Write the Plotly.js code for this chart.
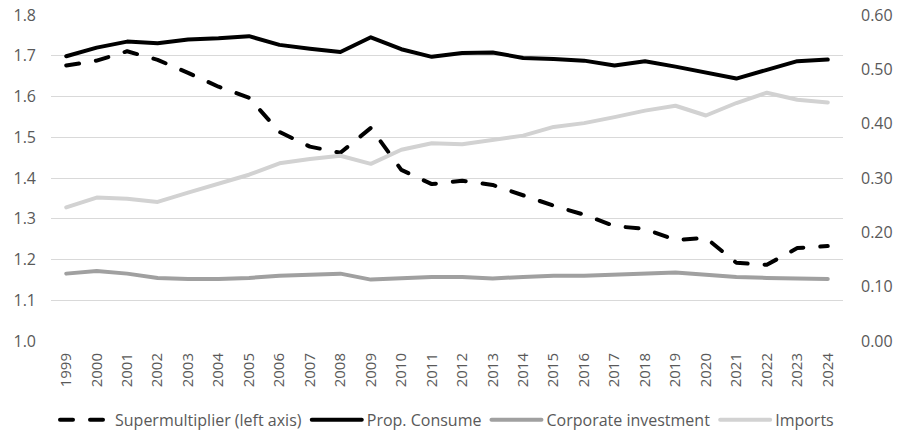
<!DOCTYPE html>
<html>
<head>
<meta charset="utf-8">
<script src="https://cdn.plot.ly/plotly-3.0.1.min.js"></script>
<style>
html,body{margin:0;padding:0;background:#fff;}
#chart{width:902px;height:433px;}
path.js-line{stroke-linecap:round !important;stroke-linejoin:round !important;}
</style>
</head>
<body>
<div id="chart"></div>
<script>
const years = ["1999","2000","2001","2002","2003","2004","2005","2006","2007","2008","2009","2010","2011","2012","2013","2014","2015","2016","2017","2018","2019","2020","2021","2022","2023","2024"];
const supermultiplier = [1.676,1.688,1.711,1.690,1.658,1.624,1.597,1.513,1.477,1.462,1.523,1.420,1.385,1.393,1.383,1.358,1.332,1.310,1.282,1.275,1.248,1.253,1.192,1.187,1.228,1.233];
const propConsume = [0.524,0.540,0.551,0.548,0.555,0.557,0.561,0.545,0.538,0.532,0.559,0.537,0.523,0.530,0.531,0.521,0.519,0.516,0.507,0.515,0.505,0.494,0.483,0.499,0.515,0.518];
const corporateInvestment = [0.124,0.129,0.124,0.116,0.114,0.114,0.116,0.120,0.122,0.124,0.113,0.115,0.118,0.118,0.115,0.118,0.120,0.120,0.122,0.124,0.126,0.122,0.118,0.116,0.115,0.114];
const imports = [0.246,0.264,0.262,0.256,0.273,0.289,0.306,0.327,0.335,0.341,0.326,0.352,0.364,0.362,0.370,0.378,0.394,0.401,0.412,0.424,0.433,0.415,0.438,0.457,0.444,0.439];
const leftTicks = [1.0,1.1,1.2,1.3,1.4,1.5,1.6,1.7,1.8];
const rightTicks = [0,0.1,0.2,0.3,0.4,0.5,0.6];

const fnt = "Open Sans, sans-serif";
const traces = [
  {x: years, y: supermultiplier, name: "Supermultiplier (left axis)", type: "scatter", mode: "lines", yaxis: "y",
   line: {color: "#000000", width: 4, dash: "13px,17px"}},
  {x: years, y: propConsume, name: "Prop. Consume", type: "scatter", mode: "lines", yaxis: "y2",
   line: {color: "#000000", width: 4}},
  {x: years, y: corporateInvestment, name: "Corporate investment", type: "scatter", mode: "lines", yaxis: "y2",
   line: {color: "#a0a0a0", width: 4}},
  {x: years, y: imports, name: "Imports", type: "scatter", mode: "lines", yaxis: "y2",
   line: {color: "#d2d2d2", width: 4}}
];
const layout = {
  width: 902, height: 433,
  margin: {l: 51, r: 59, t: 15, b: 92, autoexpand: false},
  paper_bgcolor: "#ffffff", plot_bgcolor: "#ffffff",
  font: {family: fnt, color: "#595959", size: 16},
  showlegend: true,
  legend: {orientation: "h", x: 0.5, xanchor: "center", y: -0.242, yanchor: "middle",
           font: {family: fnt, size: 16, color: "#595959"}, itemwidth: 50, tracegroupgap: 0},
  xaxis: {type: "category", tickangle: -90, showgrid: false, zeroline: false, showline: false, automargin: false,
          ticks: "", ticklabelstandoff: 8, tickfont: {family: fnt, size: 15, color: "#595959"}, range: [-0.5, 25.5]},
  yaxis: {range: [1.0, 1.8], tickvals: leftTicks, ticktext: leftTicks.map(v => v.toFixed(1)), automargin: false,
          showgrid: true, gridcolor: "#d9d9d9", gridwidth: 1, zeroline: false, showline: false,
          ticks: "", ticklabelstandoff: 14, tickfont: {family: fnt, size: 16, color: "#595959"}},
  yaxis2: {range: [0, 0.6], overlaying: "y", side: "right", tickvals: rightTicks, automargin: false,
           ticktext: rightTicks.map(v => v.toFixed(2)), showgrid: false, zeroline: false, showline: false,
           ticks: "", ticklabelstandoff: 17, tickfont: {family: fnt, size: 16, color: "#595959"}}
};
Plotly.newPlot("chart", traces, layout, {displayModeBar: false, staticPlot: true});
</script>
</body>
</html>
